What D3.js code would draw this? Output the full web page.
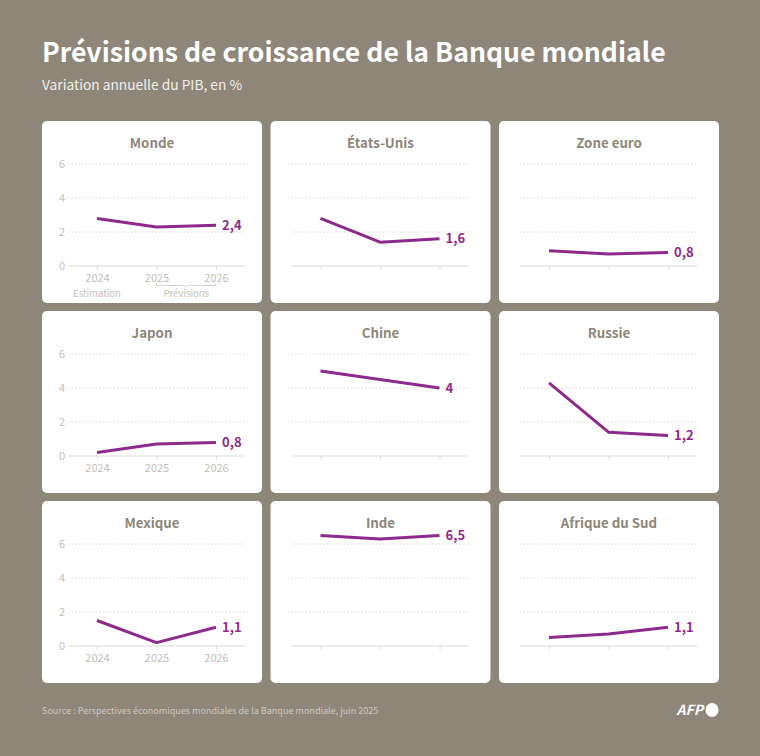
<!DOCTYPE html>
<html>
<head>
<meta charset="utf-8">
<script src="https://cdn.jsdelivr.net/npm/d3@7"></script>
<style>
  html, body { margin: 0; padding: 0; background: #8e8679; }
  svg { display: block; font-family: "Noto Sans CJK SC", "Noto Sans", sans-serif; }
</style>
</head>
<body>
<svg id="chart" width="760" height="756"></svg>
<script>
// Data
const years = [2024, 2025, 2026];
const yTicks = [0, 2, 4, 6];
const regions = ["Monde", "États-Unis", "Zone euro", "Japon", "Chine", "Russie", "Mexique", "Inde", "Afrique du Sud"];
const monde = [2.8, 2.3, 2.4];
const etatsUnis = [2.8, 1.4, 1.6];
const zoneEuro = [0.9, 0.7, 0.8];
const japon = [0.2, 0.7, 0.8];
const chine = [5, 4.5, 4];
const russie = [4.3, 1.4, 1.2];
const mexique = [1.5, 0.2, 1.1];
const inde = [6.5, 6.3, 6.5];
const afriqueDuSud = [0.5, 0.7, 1.1];
const seriesList = [monde, etatsUnis, zoneEuro, japon, chine, russie, mexique, inde, afriqueDuSud];

const purple = "#8e2a8b";
const titleGrey = "#8e8679";
const axisGrey = "#dfdcd6";
const tickTextGrey = "#c4c0b8";
const gridGrey = "#cfccc5";

const svg = d3.select("#chart");
const frFormat = d3.formatLocale({ decimal: ",", thousands: " ", grouping: [3], currency: ["", " €"] }).format("~g");

// Header
svg.append("text").attr("x", 42).attr("y", 62)
  .attr("font-size", 26.6).attr("font-weight", 700).attr("fill", "#fff")
  .text("Prévisions de croissance de la Banque mondiale");
svg.append("text").attr("x", 42).attr("y", 90)
  .attr("font-size", 13.75).attr("fill", "#f1efeb")
  .text("Variation annuelle du PIB, en %");

// Scales are shared by all the small multiples (card coordinates)
const cardW = 220, cardH = 182;
const cardX = d3.scalePoint().domain([0, 1, 2]).range([42, 499]);
const cardY = d3.scalePoint().domain([0, 1, 2]).range([121, 501]);
const y = d3.scaleLinear().domain([0, 6]).range([145, 43]);

regions.forEach((name, i) => {
  const col = i % 3, row = Math.floor(i / 3);
  const values = seriesList[i];
  // Cards without y labels have their plot moved 5px to the left
  const shift = col === 0 ? 0 : -5;
  const x = d3.scalePoint().domain(years).range([55 + shift, 174 + shift]);
  const line = d3.line().x((d, j) => x(years[j])).y(d => y(d));
  const left = 26 + shift, right = 203 + shift;
  const g = svg.append("g").attr("transform", `translate(${cardX(col)},${cardY(row)})`);

  g.append("rect").attr("width", cardW).attr("height", cardH).attr("rx", 5).attr("fill", "#fff");

  g.append("text").attr("x", cardW / 2).attr("y", 27)
    .attr("text-anchor", "middle").attr("font-size", 13.3).attr("font-weight", 700)
    .attr("fill", titleGrey).text(name);

  // Dotted gridlines
  g.append("g").selectAll("line").data(yTicks.filter(d => d > 0)).join("line")
    .attr("x1", left).attr("x2", right).attr("y1", d => y(d)).attr("y2", d => y(d))
    .attr("stroke", gridGrey).attr("stroke-width", 0.8).attr("stroke-dasharray", "1.5 2");

  // Y tick labels only in the left column
  if (col === 0) {
    g.append("g").selectAll("text").data(yTicks).join("text")
      .attr("x", 23).attr("y", d => y(d)).attr("dy", "0.35em")
      .attr("text-anchor", "end").attr("font-size", 11).attr("fill", tickTextGrey).text(d => d);
  }

  // X axis
  const axis = d3.axisBottom(x).tickSize(3.5).tickPadding(5).tickFormat(col === 0 ? d3.format("d") : "");
  const ax = g.append("g").attr("transform", `translate(0,${y(0)})`).call(axis).attr("font-family", null);
  ax.select(".domain").remove();
  ax.selectAll(".tick line").attr("stroke", axisGrey);
  ax.selectAll(".tick text").attr("fill", tickTextGrey).attr("font-size", 11);
  g.append("line").attr("x1", left).attr("x2", right).attr("y1", y(0)).attr("y2", y(0))
    .attr("stroke", axisGrey).attr("stroke-width", 1.2);

  // Series line and last value
  g.append("path").attr("d", line(values)).attr("fill", "none")
    .attr("stroke", purple).attr("stroke-width", 3).attr("stroke-linejoin", "round");
  g.append("text").attr("x", x(2026) + 6).attr("y", y(values[2])).attr("dy", "0.35em")
    .attr("font-size", 13).attr("font-weight", 700).attr("fill", purple).text(frFormat(values[2]));

  // Estimation / Prévisions notes on the first card only
  if (i === 0) {
    const x0 = x(2025), x1 = x(2026), mid = (x0 + x1) / 2;
    g.append("text").attr("x", x(2024)).attr("y", 175.5).attr("text-anchor", "middle")
      .attr("font-size", 9.5).attr("fill", tickTextGrey).text("Estimation");
    g.append("text").attr("x", mid).attr("y", 175.5).attr("text-anchor", "middle")
      .attr("font-size", 9.5).attr("fill", tickTextGrey).text("Prévisions");
    g.append("path")
      .attr("d", `M${x0},162V164.5H${mid - 2}L${mid},166L${mid + 2},164.5H${x1}V162`)
      .attr("fill", "none").attr("stroke", tickTextGrey).attr("stroke-width", 0.7);
  }
});

// Footer
svg.append("text").attr("x", 42).attr("y", 713.5)
  .attr("font-size", 9.05).attr("fill", "#cdc8bf")
  .text("Source : Perspectives économiques mondiales de la Banque mondiale, juin 2025");
svg.append("text").attr("x", 703).attr("y", 714.5).attr("text-anchor", "end")
  .attr("font-size", 14).attr("font-weight", 700).attr("font-style", "italic").attr("fill", "#fff").text("AFP");
svg.append("ellipse").attr("cx", 712).attr("cy", 710).attr("rx", 6.5).attr("ry", 7).attr("fill", "#fff");
</script>
</body>
</html>
